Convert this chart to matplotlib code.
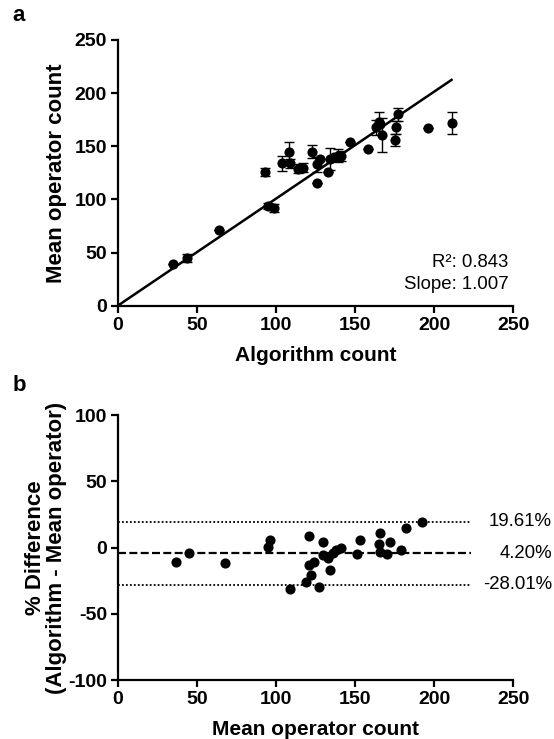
import matplotlib
matplotlib.use('Agg')
import matplotlib.pyplot as plt
import numpy as np

plt.rcParams['font.family'] = ['Liberation Sans', 'DejaVu Sans']
plt.rcParams['axes.unicode_minus'] = False

# panel a: algorithm count vs mean operator count (+/- error)
algo = [35, 44, 64, 93, 95, 99, 104, 108, 109, 114, 117, 123, 126, 126, 128, 133,
        134, 137, 139, 141, 147, 158, 163, 165, 166, 167, 175, 176, 177, 196, 211]
oper = [39, 45, 71, 126, 94, 92, 134, 145, 134, 129, 130, 145, 133, 115, 138, 126,
        138, 140, 141, 141, 154, 147, 168, 173, 171, 161, 156, 168, 180, 167, 172]
oper_err = [0, 4, 0, 4, 3, 4, 7, 9, 4, 4, 4, 6, 7, 0, 0, 0,
            10, 0, 6, 5, 0, 0, 7, 9, 0, 16, 6, 6, 6, 0, 10]
slope = 1.007
r2 = 0.843

# panel b: Bland-Altman
mean_op = [37, 45, 68, 95, 96, 109, 119, 121, 121, 122, 124, 127, 130, 130, 133, 134,
           136, 138, 141, 151, 153, 165, 166, 166, 170, 172, 179, 182, 192]
pct_diff = [-11, -4, -11.5, 0.5, 6, -31, -26, 9, -13, -21, -11, -30, 4, -6, -8, -17,
            -4, -2, -0.5, -5, 6, 3, 11, -3, -5, 4, -2, 15, 19.5]
bias = -4.20
loa_hi = 19.61
loa_lo = -28.01

fig = plt.figure(figsize=(5.54, 7.39), dpi=100)
ax1 = fig.add_axes([0.2125, 0.5863, 0.714, 0.3596])
ax2 = fig.add_axes([0.2125, 0.0798, 0.714, 0.3586])

for ax in (ax1, ax2):
    for s in ('top', 'right'):
        ax.spines[s].set_visible(False)
    for s in ('left', 'bottom'):
        ax.spines[s].set_linewidth(1.6)
    ax.tick_params(width=1.6, length=4.8, labelsize=14, pad=3)
    ax.set_xlim(0, 250)
    ax.set_xticks([0, 50, 100, 150, 200, 250])

# a
xl = np.array([0, max(algo)])
ax1.plot(xl, slope * xl, color='black', lw=1.8, zorder=2)
ax1.errorbar(algo, oper, yerr=oper_err, fmt='o', color='black', ms=6.3,
             elinewidth=1.0, capsize=3.5, capthick=1.0, zorder=3)
ax1.plot([0], [0], 'o', color='black', ms=4)
ax1.set_ylim(0, 250)
ax1.set_yticks([0, 50, 100, 150, 200, 250])
ax1.set_xlabel('Algorithm count', fontsize=15, fontweight='bold', labelpad=9)
ax1.set_ylabel('Mean operator count', fontsize=16, fontweight='bold', labelpad=5)
ax1.text(0.987, 0.162, 'R²: %.3f' % r2, transform=ax1.transAxes, ha='right',
         va='center', fontsize=13.4)
ax1.text(0.987, 0.081, 'Slope: %.3f' % slope, transform=ax1.transAxes, ha='right',
         va='center', fontsize=13.4)

# b
ax2.plot([0, 223], [loa_hi, loa_hi], color='black', lw=1.3, ls=(0, (1, 1.2)))
ax2.plot([0, 223], [loa_lo, loa_lo], color='black', lw=1.3, ls=(0, (1, 1.2)))
ax2.plot([0, 223], [bias, bias], color='black', lw=1.6, ls=(0, (3.6, 1.5)))
ax2.plot(mean_op, pct_diff, 'o', color='black', ms=6.3)
ax2.set_ylim(-100, 100)
ax2.set_yticks([-100, -50, 0, 50, 100])
ax2.set_xlabel('Mean operator count', fontsize=15, fontweight='bold', labelpad=9)
ax2.set_ylabel('% Difference\n(Algorithm - Mean operator)', fontsize=16,
               fontweight='bold', labelpad=1, linespacing=1.0)
for v, t in ((loa_hi, '19.61%'), (bias, '4.20%'), (loa_lo, '-28.01%')):
    ax2.text(1.098, v, t, transform=ax2.get_yaxis_transform(), ha='right',
             va='center', fontsize=13.4)

for ax in (ax1, ax2):
    for lab in ax.get_xticklabels() + ax.get_yticklabels():
        lab.set_fontweight('bold')

fig.text(0.022, 0.993, 'a', fontsize=16, fontweight='bold', va='top')
fig.text(0.022, 0.493, 'b', fontsize=16, fontweight='bold', va='top')

fig.savefig('out.png', dpi=100)
